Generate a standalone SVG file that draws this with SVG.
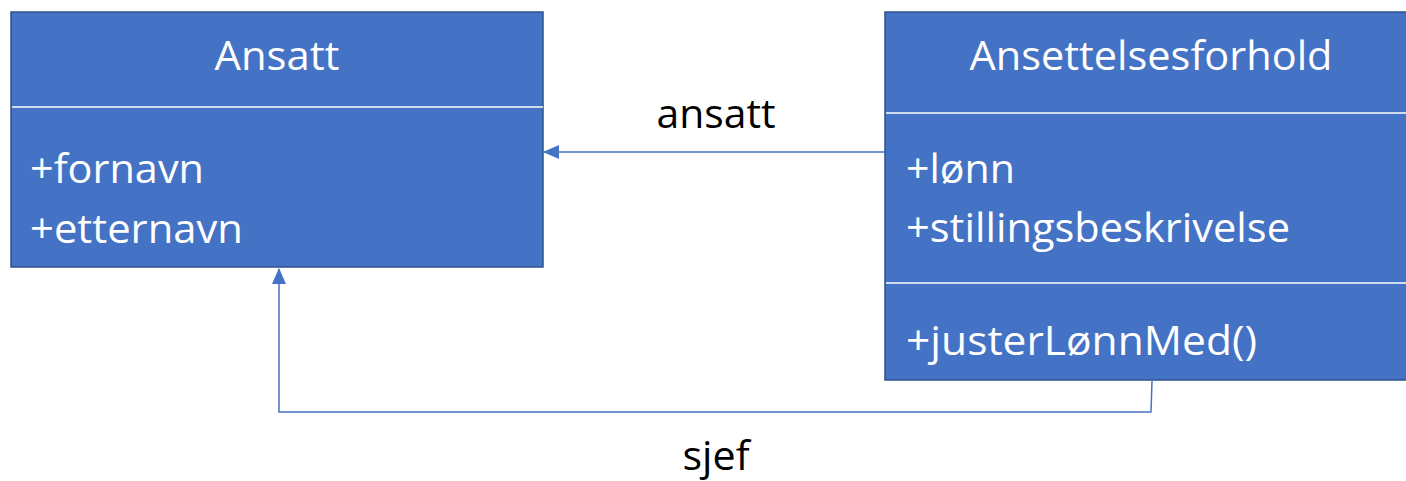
<svg xmlns="http://www.w3.org/2000/svg" width="1406" height="481" viewBox="0 0 1406 481">
<style>
.box{fill:#4472C4;stroke:#2F528F;stroke-width:1.5}
.div{stroke:#FFFFFF;stroke-width:1.5}
.t{font-family:"Open Sans","Liberation Sans",sans-serif;font-size:41px;fill:#FFFFFF}
.lbl{font-family:"Open Sans","Liberation Sans",sans-serif;font-size:41px;fill:#000000}
.conn{fill:none;stroke:#4472C4;stroke-width:1.5}
</style>
<defs>
<marker id="arr" viewBox="0 0 16 14" refX="15" refY="7" markerWidth="16" markerHeight="14" markerUnits="userSpaceOnUse" orient="auto">
<path d="M0,0 L16,7 L0,14 Z" fill="#4472C4"/>
</marker>
</defs>
<rect width="1406" height="481" fill="#FFFFFF"/>
<g id="ansatt">
<rect class="box" x="11" y="12" width="532" height="255"/>
<line class="div" x1="12" y1="107" x2="543" y2="107"/>
<text class="t" x="277" y="70" text-anchor="middle" textLength="125" lengthAdjust="spacingAndGlyphs">Ansatt</text>
<text class="t" x="30" y="183" textLength="174" lengthAdjust="spacingAndGlyphs">+fornavn</text>
<text class="t" x="30" y="243" textLength="213" lengthAdjust="spacingAndGlyphs">+etternavn</text>
</g>
<g id="ansettelsesforhold">
<rect class="box" x="885" y="12" width="530" height="368"/>
<line class="div" x1="886" y1="113" x2="1406" y2="113"/>
<line class="div" x1="886" y1="283" x2="1406" y2="283"/>
<text class="t" x="1151" y="70" text-anchor="middle" textLength="363" lengthAdjust="spacingAndGlyphs">Ansettelsesforhold</text>
<text class="t" x="906" y="183" textLength="109" lengthAdjust="spacingAndGlyphs">+lønn</text>
<text class="t" x="906" y="242" textLength="384" lengthAdjust="spacingAndGlyphs">+stillingsbeskrivelse</text>
<text class="t" x="906" y="355" textLength="351" lengthAdjust="spacingAndGlyphs">+justerLønnMed()</text>
</g>
<g id="connectors">
<line class="conn" x1="885" y1="152" x2="544" y2="152" marker-end="url(#arr)"/>
<polyline class="conn" points="1152,381 1151,412 279,412 279,269" marker-end="url(#arr)"/>
<text class="lbl" x="716" y="128" text-anchor="middle" textLength="119" lengthAdjust="spacingAndGlyphs">ansatt</text>
<text class="lbl" x="716" y="470" text-anchor="middle" textLength="67" lengthAdjust="spacingAndGlyphs">sjef</text>
</g>
</svg>
